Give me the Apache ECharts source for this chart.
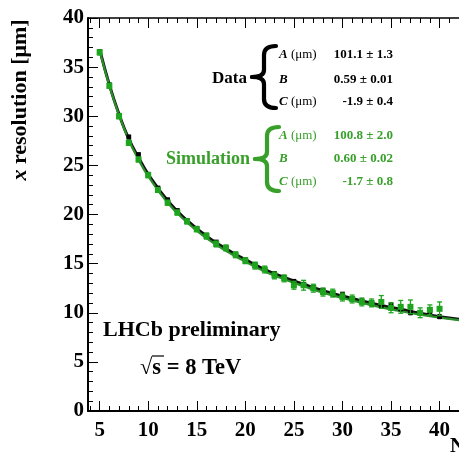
<!DOCTYPE html>
<html><head><meta charset="utf-8">
<script src="https://cdn.jsdelivr.net/npm/echarts@6/dist/echarts.min.js"></script>
<style>html,body{margin:0;padding:0;background:#fff}#c{width:459px;height:454px}</style>
</head><body><div id="c"></div>
<script>
// ---- data ----
var nValues   = [5,6,7,8,9,10,11,12,13,14,15,16,17,18,19,20,21,22,23,24,25,26,27,28,29,30,31,32,33,34,35,36,37,38,39,40];
var dataRes   = [36.6,33.2,30.1,27.9,26.1,24.1,22.7,21.5,20.4,19.4,18.6,17.9,17.2,16.6,15.9,15.4,14.9,14.4,14.0,13.6,13.2,12.9,12.6,12.3,11.9,11.9,11.4,11.2,10.9,10.7,10.8,10.4,10.0,10.0,10.1,9.6];
var dataErr   = [0.15,0.15,0.15,0.15,0.15,0.15,0.15,0.15,0.15,0.15,0.15,0.15,0.15,0.15,0.15,0.15,0.15,0.15,0.15,0.15,0.15,0.15,0.15,0.15,0.15,0.15,0.2,0.2,0.2,0.2,0.2,0.2,0.2,0.2,0.2,0.2];
var simRes    = [36.5,33.1,30.0,27.3,25.6,24.0,22.5,21.2,20.2,19.3,18.5,17.8,17.0,16.6,15.9,15.3,14.8,14.4,13.8,13.5,12.8,12.8,12.5,12.1,12.0,11.6,11.4,11.1,11.0,11.1,10.5,10.6,10.6,10.0,10.3,10.4];
var simErr    = [0.25,0.25,0.25,0.25,0.25,0.25,0.25,0.25,0.25,0.25,0.25,0.3,0.3,0.3,0.3,0.3,0.35,0.35,0.35,0.35,0.4,0.5,0.4,0.4,0.4,0.4,0.4,0.4,0.4,0.65,0.5,0.65,0.7,0.5,0.5,0.7];
var fitN      = [5,6,7,8,9,10,12,14,16,18,20,22,24,26,28,30,32,34,36,38,40,42];
var dataFit   = [36.8,33.2,30.2,27.7,25.8,24.1,21.4,19.4,17.8,16.5,15.4,14.4,13.6,12.9,12.25,11.7,11.2,10.75,10.35,9.95,9.6,9.35];
var simFit    = [36.7,33.1,30.1,27.6,25.6,23.9,21.2,19.2,17.6,16.3,15.2,14.2,13.4,12.7,12.05,11.5,11.0,10.55,10.15,9.8,9.5,9.25];
var xMajor    = [5,10,15,20,25,30,35,40];
var xMinor    = [4,5,6,7,8,9,10,11,12,13,14,15,16,17,18,19,20,21,22,23,24,25,26,27,28,29,30,31,32,33,34,35,36,37,38,39,40,41];
var dataFitText = [['A', ' (μm)', '101.1 ± 1.3'], ['B', '', '0.59 ± 0.01'], ['C', ' (μm)', '-1.9 ± 0.4']];
var simFitText  = [['A', ' (μm)', '100.8 ± 2.0'], ['B', '', '0.60 ± 0.02'], ['C', ' (μm)', '-1.7 ± 0.8']];

var SERIF = 'Liberation Serif';
var GREEN_PT = '#1ea41e', GREEN_LN = '#2a8f2a', GREEN_TX = '#38a02a';

function zip3(a,b,c){ return a.map(function(v,i){ return [v,b[i],c[i]]; }); }
function zip2(a,b){ return a.map(function(v,i){ return [v,b[i]]; }); }

function errRenderer(color, half, cap, lw){
  return function(params, api){
    var x = api.value(0), y = api.value(1), e = api.value(2);
    var p = api.coord([x,y]), lo = api.coord([x,y-e]), hi = api.coord([x,y+e]);
    var st = {stroke: color, lineWidth: lw};
    return {type:'group', children:[
      {type:'line', shape:{x1:p[0],y1:lo[1],x2:p[0],y2:hi[1]}, style:st},
      {type:'line', shape:{x1:p[0]-cap,y1:lo[1],x2:p[0]+cap,y2:lo[1]}, style:st},
      {type:'line', shape:{x1:p[0]-cap,y1:hi[1],x2:p[0]+cap,y2:hi[1]}, style:st},
      {type:'rect', shape:{x:p[0]-half,y:p[1]-half,width:2*half,height:2*half}, style:{fill:color}}
    ]};
  };
}

var graphics = [];
function addBrace(xTip, xEnd, top, bot, color){
  var mid = (top+bot)/2, xm = (xTip+xEnd)/2;
  var st = {stroke:color, lineWidth:4.2, fill:null, lineCap:'round'};
  graphics.push({type:'bezierCurve', shape:{x1:xEnd,y1:top,cpx1:xm,cpy1:top,x2:xm,y2:top+9}, style:st});
  graphics.push({type:'line', shape:{x1:xm,y1:top+9,x2:xm,y2:mid-7}, style:st});
  graphics.push({type:'bezierCurve', shape:{x1:xm,y1:mid-7,cpx1:xm,cpy1:mid,x2:xTip,y2:mid}, style:st});
  graphics.push({type:'bezierCurve', shape:{x1:xTip,y1:mid,cpx1:xm,cpy1:mid,x2:xm,y2:mid+7}, style:st});
  graphics.push({type:'line', shape:{x1:xm,y1:mid+7,x2:xm,y2:bot-9}, style:st});
  graphics.push({type:'bezierCurve', shape:{x1:xm,y1:bot-9,cpx1:xm,cpy1:bot,x2:xEnd,y2:bot}, style:st});
}

// y-axis title
graphics.push({type:'text', x:20, y:100, rotation:Math.PI/2, style:{
  text:'{i|x} resolution [μm]', font:'bold 22px '+SERIF, fill:'#000', align:'center', verticalAlign:'middle',
  rich:{i:{fontStyle:'italic', fontWeight:'bold', fontSize:22, fontFamily:SERIF}}
}});
// x-axis title (cut off at the right edge)
graphics.push({type:'text', x:450, y:447, style:{text:'N', font:'bold 21px '+SERIF, fill:'#000', align:'left', verticalAlign:'middle'}});

function fitBlock(label, rows, color, braceTip, top, bot, rowYs, labelY, fs){
  graphics.push({type:'text', x:braceTip-5, y:labelY, style:{text:label, font:'bold '+fs+'px '+SERIF, fill:color, align:'right', verticalAlign:'middle'}});
  addBrace(braceTip, braceTip+24, top, bot, color);
  rows.forEach(function(r,i){
    graphics.push({type:'text', x:279, y:rowYs[i], style:{
      text:'{i|'+r[0]+'}'+(r[1]?'{n|'+r[1]+'}':''), fill:color, align:'left', verticalAlign:'middle',
      rich:{i:{fontStyle:'italic', fontWeight:'bold', fontSize:13, fontFamily:SERIF, fill:color},
            n:{fontSize:13, fontFamily:SERIF, fill:color}}
    }});
    graphics.push({type:'text', x:393, y:rowYs[i], style:{text:r[2], font:'bold 13px '+SERIF, fill:color, align:'right', verticalAlign:'middle'}});
  });
}
fitBlock('Data', dataFitText, '#000', 252, 46, 108, [55,80,102], 79, 17);
fitBlock('Simulation', simFitText, GREEN_TX, 255, 127, 191, [136,159,182], 159, 18);

graphics.push({type:'text', x:103, y:330, style:{text:'LHCb preliminary', font:'bold 22px '+SERIF, fill:'#000', align:'left', verticalAlign:'middle'}});
graphics.push({type:'text', x:140, y:368, style:{text:'√s = 8 TeV', font:'bold 22.5px '+SERIF, fill:'#000', align:'left', verticalAlign:'middle'}});
graphics.push({type:'line', shape:{x1:152, y1:356, x2:164, y2:356}, style:{stroke:'#000', lineWidth:1.2}});

var chart = echarts.init(document.getElementById('c'), null, {renderer:'canvas'});
var lbl = {fontFamily:SERIF, fontWeight:'bold', fontSize:21, color:'#000'};
chart.setOption({
  animation:false,
  backgroundColor:'#fff',
  grid:{left:88, top:18, width:383, height:393, containLabel:false},
  xAxis:[
    {type:'value', min:3.8, max:42, position:'bottom',
     axisLine:{lineStyle:{color:'#000', width:2}},
     axisTick:{inside:true, length:10, customValues:xMajor, lineStyle:{color:'#000', width:1}},
     axisLabel:Object.assign({customValues:xMajor, margin:9}, lbl),
     splitLine:{show:false}},
    {type:'value', min:3.8, max:42, position:'bottom',
     axisLine:{show:false},
     axisTick:{inside:true, length:5, customValues:xMinor, lineStyle:{color:'#000', width:1}},
     axisLabel:{show:false}, splitLine:{show:false}},
    {type:'value', min:3.8, max:42, position:'top',
     axisLine:{lineStyle:{color:'#000', width:1.5}},
     axisTick:{inside:true, length:10, customValues:xMajor, lineStyle:{color:'#000', width:1}},
     axisLabel:{show:false}, splitLine:{show:false}},
    {type:'value', min:3.8, max:42, position:'top',
     axisLine:{show:false},
     axisTick:{inside:true, length:5, customValues:xMinor, lineStyle:{color:'#000', width:1}},
     axisLabel:{show:false}, splitLine:{show:false}}
  ],
  yAxis:{type:'value', min:0, max:40, interval:5,
     axisLine:{show:true, lineStyle:{color:'#000', width:2}},
     axisTick:{show:true, inside:true, length:10, lineStyle:{color:'#000', width:1}},
     minorTick:{show:true, splitNumber:5, length:5, lineStyle:{color:'#000', width:1}},
     axisLabel:Object.assign({margin:4}, lbl),
     splitLine:{show:false}},
  graphic:graphics,
  series:[
    {type:'line', name:'Data fit', xAxisIndex:0, data:zip2(fitN, dataFit), smooth:true, showSymbol:false, lineStyle:{color:'#111', width:3}, z:2},
    {type:'line', name:'Sim fit', xAxisIndex:0, data:zip2(fitN, simFit), smooth:true, showSymbol:false, lineStyle:{color:GREEN_LN, width:2.2}, z:3},
    {type:'custom', name:'Data', xAxisIndex:0, data:zip3(nValues, dataRes, dataErr), renderItem:errRenderer('#000', 2.4, 1.5, 1), z:4},
    {type:'custom', name:'Simulation', xAxisIndex:0, data:zip3(nValues, simRes, simErr), renderItem:errRenderer(GREEN_PT, 3, 2.5, 1.3), z:5}
  ]
});
</script>
</body></html>
